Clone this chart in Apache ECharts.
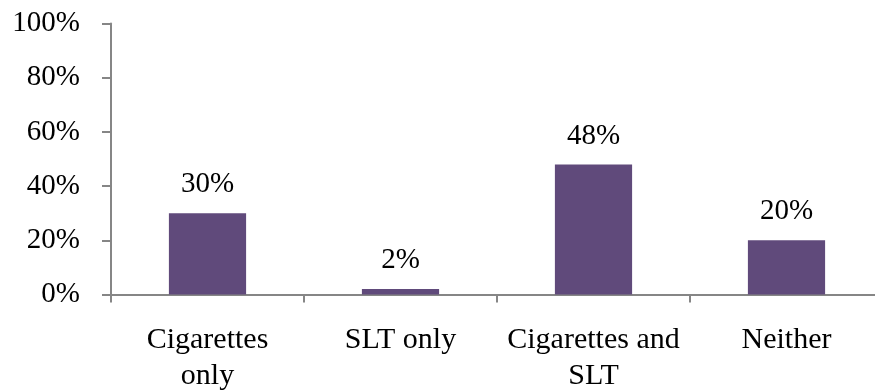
<!DOCTYPE html>
<html>
<head>
<meta charset="utf-8">
<script src="https://cdn.jsdelivr.net/npm/echarts@6/dist/echarts.min.js"></script>
<style>
  html, body { margin: 0; padding: 0; background: #fff; }
  #chart { width: 875px; height: 392px; }
</style>
</head>
<body>
<div id="chart"></div>
<script>
// Tobacco use categories and their shares (%)
const categories = ['Cigarettes\nonly', 'SLT only', 'Cigarettes and\nSLT', 'Neither'];
const shares = [30, 2, 48, 20];
const yTicks = [0, 20, 40, 60, 80, 100];

const font = 'Liberation Serif, Times New Roman, serif';
const axisGray = '#868686';

const chart = echarts.init(document.getElementById('chart'), null, { renderer: 'canvas' });
chart.setOption({
  animation: false,
  grid: {
    left: 111, top: 23.5, width: 772, height: 271,
    containLabel: false, outerBoundsMode: 'none'
  },
  xAxis: {
    type: 'category',
    data: categories,
    axisLine: { lineStyle: { color: axisGray, width: 2 } },
    axisTick: { show: true, alignWithLabel: false, length: 8, inside: false, lineStyle: { color: axisGray, width: 2 } },
    axisLabel: {
      color: '#000', fontFamily: font, fontSize: 30, lineHeight: 36,
      margin: 28, interval: 0
    },
    splitLine: { show: false }
  },
  yAxis: {
    type: 'value',
    min: yTicks[0],
    max: yTicks[yTicks.length - 1],
    interval: 20,
    axisLine: { show: true, lineStyle: { color: axisGray, width: 2 } },
    axisTick: { show: true, length: 9, lineStyle: { color: axisGray, width: 2 } },
    axisLabel: {
      color: '#000', fontFamily: font, fontSize: 29, margin: 31,
      formatter: v => v + '%'
    },
    splitLine: { show: false }
  },
  series: [{
    type: 'bar',
    data: shares,
    barWidth: '40%',
    itemStyle: { color: '#604A7B' },
    label: {
      show: true, position: 'top', distance: 14,
      color: '#000', fontFamily: font, fontSize: 29,
      formatter: p => p.value + '%'
    }
  }]
});
</script>
</body>
</html>
